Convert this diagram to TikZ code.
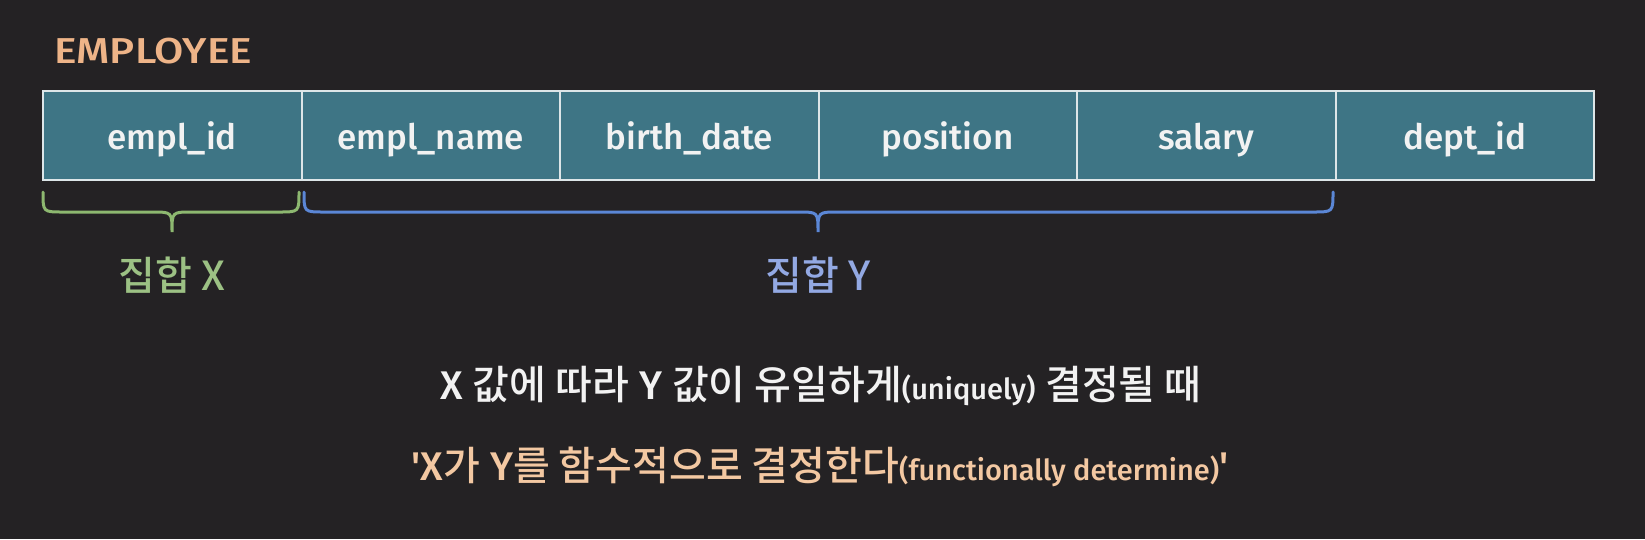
\documentclass[tikz,border=0pt]{standalone}
\usepackage{fontspec}
\setmainfont{Fira Sans}[UprightFont=* Medium]
\newfontfamily\ko{Noto Sans CJK KR}[UprightFont=* Medium]
\newfontfamily\qf{Fira Sans}[UprightFont=* Medium, Ligatures=TeXOff]
\definecolor{bg}{HTML}{242224}
\definecolor{cellfill}{HTML}{3E7585}
\definecolor{cellline}{HTML}{DDE6E8}
\definecolor{txtw}{HTML}{F2F2F2}
\definecolor{orng}{HTML}{EEB488}
\definecolor{gbr}{HTML}{8DB870}
\definecolor{glab}{HTML}{9CC184}
\definecolor{bbr}{HTML}{5B87D6}
\definecolor{blab}{HTML}{93A9E3}
\definecolor{peach}{HTML}{F3C8A2}
\begin{document}
\begin{tikzpicture}[x=1pt,y=-1pt,
  cell/.style={draw=cellline, line width=2pt, fill=cellfill, minimum width=258.5pt, minimum height=89pt, inner sep=0pt, text height=28pt, text depth=0pt, text=txtw, font=\fontsize{35}{38}\selectfont},
  brace/.style={line width=3pt, line cap=round},
  lab/.style={font=\fontsize{40}{46}\selectfont\ko, inner sep=0pt},
  sent/.style={font=\fontsize{40}{46}\selectfont, inner sep=0pt, anchor=center}]
\fill[bg] (0,0) rectangle (1645,539);
\node[anchor=west, text=orng, inner sep=0pt, font=\fontsize{36}{40}\selectfont] (title) at (54,51) {\scalebox{1.18}[1]{EMPLOYEE}};
\foreach \i/\t in {1/empl\_id,2/empl\_name,3/birth\_date,4/position,5/salary,6/dept\_id}{
  \node[cell] (c\i) at ({43+258.5*(\i-0.5)},135) {\t};
}
\draw[brace, gbr] (43,192) .. controls (43,212) .. (63,212) -- (152,212) .. controls (172,212) .. (172,232) .. controls (172,212) .. (192,212) -- (279,212) .. controls (299,212) .. (299,192);
\draw[brace, bbr] (304,192) .. controls (304,212) .. (324,212) -- (798,212) .. controls (818,212) .. (818,232) .. controls (818,212) .. (838,212) -- (1313,212) .. controls (1333,212) .. (1333,192);
\node[lab, text=glab] (lx) at (172,275) {집합 X};
\node[lab, text=blab] (ly) at (818,275) {집합 Y};
\node[sent, text=txtw] (s1) at (821,386) {X {\ko 값에 따라} Y {\ko 값이 유일하게}{\fontsize{29}{34}\selectfont(uniquely)} {\ko 결정될 때}};
\node[sent, text=peach] (s2) at (820,467) {{\qf '}X{\ko 가} Y{\ko 를 함수적으로 결정한다}{\fontsize{29}{34}\selectfont(functionally determine)}{\qf '}};
\end{tikzpicture}
\end{document}
